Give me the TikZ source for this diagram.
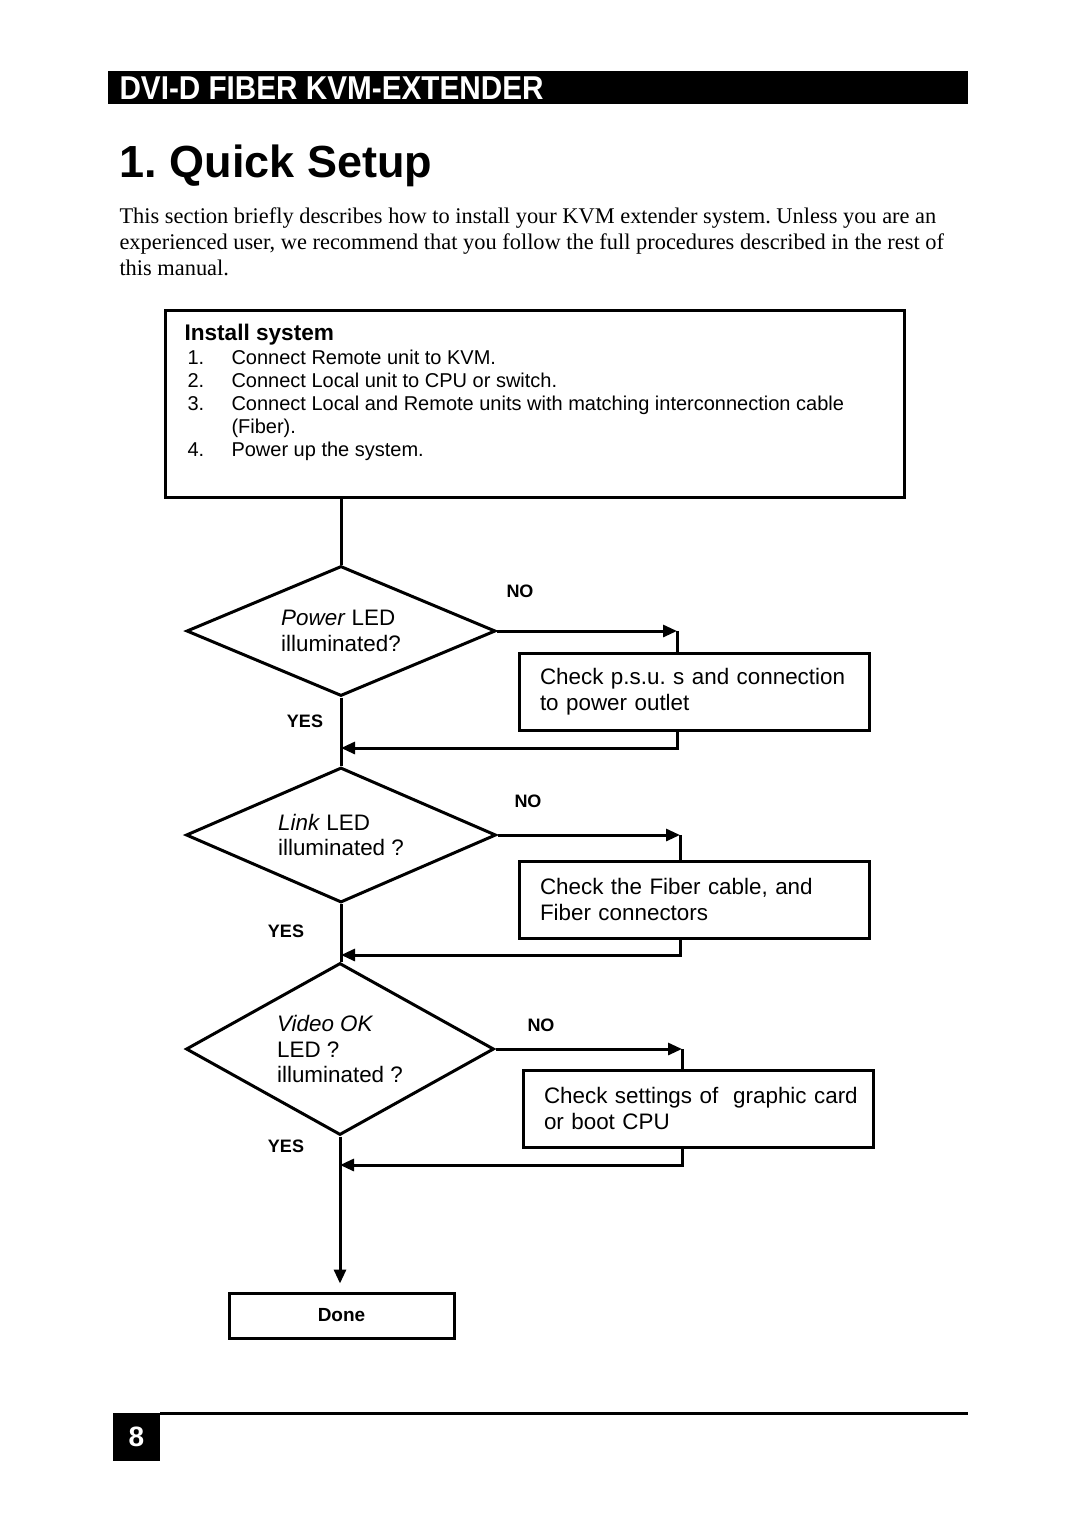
\documentclass[tikz,border=0pt]{standalone}
\usepackage{fontspec}
\setmainfont{Liberation Sans}
\newfontfamily\timesfont{Liberation Serif}
\usetikzlibrary{shapes.geometric,arrows.meta}
\frenchspacing
\tikzset{
	decision/.style={diamond,draw,shape aspect=2.2,inner sep=0pt,align=left,
		font=\fontsize{11.2}{12.75}\selectfont},
	check/.style={draw,text width=154pt,inner xsep=10.5pt,minimum height=38.5pt,
		align=left,font=\fontsize{11.2}{12.75}\selectfont},
	yesno/.style={inner sep=0pt,font=\bfseries\fontsize{9}{11}\selectfont}
}

\begin{document}
\begin{tikzpicture}[x=0.5pt,y=-0.5pt,line width=1.5pt,>={Triangle[length=7pt,width=6pt]}]
	\fill[white] (0,0) rectangle (1080,1528);
	\useasboundingbox (0,0) rectangle (1080,1528);

	%HEADER
	\fill (108,71) rectangle (968,104);
	\node[anchor=base west,inner sep=0pt,text=white,font=\bfseries\fontsize{16.5}{18}\selectfont] (head) at (118,99) {\scalebox{0.9}[1]{DVI-D FIBER KVM-EXTENDER}};
	\node[anchor=base west,inner sep=0pt,font=\bfseries\fontsize{22.5}{27}\selectfont] (title) at (118,177) {1. Quick Setup};
	\node[anchor=base west,inner sep=0pt,align=left,font=\timesfont\fontsize{11.2}{13}\selectfont] (intro) at (118,275)
		{This section briefly describes how to install your KVM extender system. Unless you are an\\
		 experienced user, we recommend that you follow the full procedures described in the rest of\\
		 this manual.};

	%INSTALL BOX
	\node[draw,minimum width=369.5pt,minimum height=93.5pt,inner sep=0pt] (install) at (534.5,403.5) {};
	\node[anchor=base west,inner sep=0pt,font=\bfseries\fontsize{11.3}{13}\selectfont] (installhead) at (183,340) {Install system};
	\node[anchor=base west,inner sep=0pt,font=\fontsize{10}{11.5}\selectfont] (steps) at (186,364)
		{\renewcommand{\arraystretch}{1.0}%
		 \begin{tabular}[t]{@{}p{22pt}@{}l@{}}
		 1. & Connect Remote unit to KVM.\\
		 2. & Connect Local unit to CPU or switch.\\
		 3. & Connect Local and Remote units with matching interconnection cable\\
		    & (Fiber).\\
		 4. & Power up the system.
		 \end{tabular}};

	%DECISIONS
	\node[decision,minimum width=154.5pt,minimum height=65pt] (power) at (341,631) {\textit{Power} LED\\illuminated?};
	\node[decision,minimum width=155pt,minimum height=67.5pt] (link) at (341,835) {\textit{Link} LED\\illuminated ?};
	\node[decision,minimum width=154pt,minimum height=86pt] (video) at (340,1049) {\textit{Video OK}\\LED ?\\illuminated ?};

	%CHECKS
	\node[check] (psu) at (694,691.5) {Check p.s.u. s and connection\\to power outlet};
	\node[check] (fiber) at (694,899.5) {Check the Fiber cable, and\\Fiber connectors};
	\node[check] (gfx) at (698,1108.5) {\mbox{Check settings of\ \ graphic card}\\or boot CPU};

	\node[draw,minimum width=112.5pt,minimum height=22.5pt,font=\bfseries\fontsize{9.5}{11}\selectfont] (done) at (341.5,1315.5) {Done};

	%ARROWS
	%main line
	\draw (power.north |- install.south) -- (power.north);
	\draw (power.south) -- (link.north);
	\draw (link.south) -- (link.south |- video.north);
	\draw[->,shorten >=4pt] (video.south) -- (video.south |- done.north);
	%no branches
	\coordinate (no1) at (677,631);
	\coordinate (back1) at (677,748);
	\draw[->] (power.east) -- (no1);
	\draw (no1) -- (no1 |- psu.north);
	\draw[->] (back1 |- psu.south) -- (back1) -- (back1 -| power.south);
	\coordinate (no2) at (680,835);
	\coordinate (back2) at (680,955);
	\draw[->] (link.east) -- (no2);
	\draw (no2) -- (no2 |- fiber.north);
	\draw[->] (back2 |- fiber.south) -- (back2) -- (back2 -| link.south);
	\coordinate (no3) at (682,1049);
	\coordinate (back3) at (682,1165);
	\draw[->] (video.east) -- (no3);
	\draw (no3) -- (no3 |- gfx.north);
	\draw[->] (back3 |- gfx.south) -- (back3) -- (back3 -| video.south);

	%LABELS
	\node[yesno] (nopower) at (520,591) {NO};
	\node[yesno] (nolink) at (528,801) {NO};
	\node[yesno] (novideo) at (541,1025) {NO};
	\node[yesno] (yespower) at (305,721) {YES};
	\node[yesno] (yeslink) at (286,931) {YES};
	\node[yesno] (yesvideo) at (286,1146) {YES};

	%FOOTER
	\fill (113,1413) rectangle (160,1461);
	\node[text=white,font=\bfseries\fontsize{14}{16}\selectfont] (pagenum) at (136.5,1437) {8};
	\draw (160,1413) -- (968,1413);
\end{tikzpicture}
\end{document}
